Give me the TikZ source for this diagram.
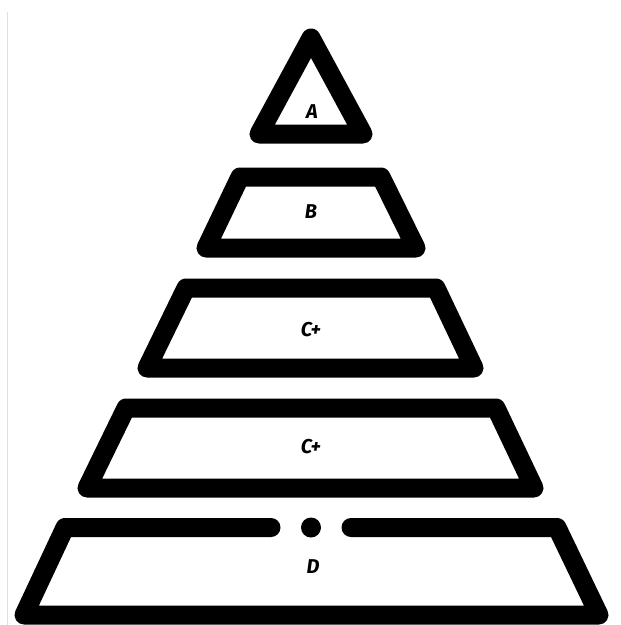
\documentclass[tikz,border=0pt]{standalone}
\usepackage{fontspec}
\newfontfamily\lblfont{Fira Sans}
\begin{document}
\begin{tikzpicture}[x=1pt,y=-1pt,
  tier/.style={draw=black, line width=19pt, line join=round, line cap=round},
  lbl/.style={font=\lblfont\bfseries\itshape\fontsize{20}{20}\selectfont, text=black, inner sep=0pt}]
\useasboundingbox (0,0) rectangle (621,625);
% faint edge line
\draw[draw=black!12, line width=1.5pt] (7.5,12) -- (7.5,625);
% tier A (triangle)
\draw[tier] (311,38) -- (363,134) -- (259,134) -- cycle;
% tier B
\draw[tier] (240,177) -- (381,177) -- (416,248) -- (206,248) -- cycle;
% tier C+ (upper)
\draw[tier] (186,288) -- (436,288) -- (474,368) -- (147,368) -- cycle;
% tier C+ (lower)
\draw[tier] (126,408) -- (496,408) -- (534,488) -- (87,488) -- cycle;
% tier D (open top with dot)
\draw[tier] (271,527.5) -- (65,527.5) -- (24,615) -- (599,615) -- (557,527.5) -- (351,527.5);
\fill[black] (311,527.5) circle (10pt);
% labels
\node[lbl] (la) at (312,112) {A};
\node[lbl] (lb) at (311,212) {B};
\node[lbl] (lc1) at (311,330) {C+};
\node[lbl] (lc2) at (311,447) {C+};
\node[lbl] (ld) at (313,567) {D};
\end{tikzpicture}
\end{document}
